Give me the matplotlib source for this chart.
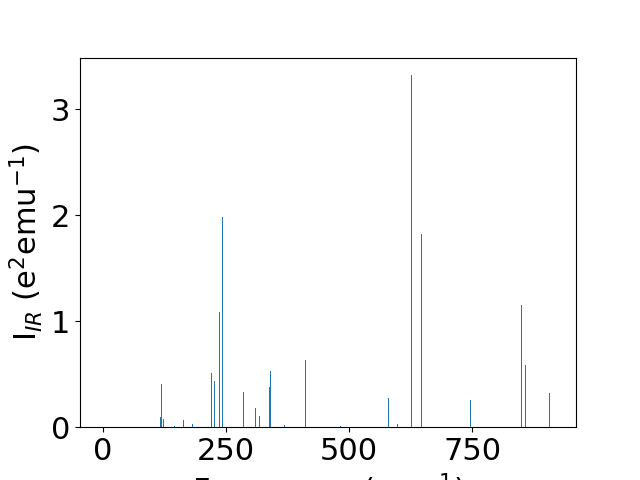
import matplotlib
matplotlib.use("Agg")
import matplotlib.pyplot as plt
import numpy as np

# IR modes: frequency (cm^-1) and intensity (e^2 emu^-1)
freq = [0, 116.5, 118.5, 122.6, 145, 163, 181.5, 220, 226, 236.5, 242.5,
        285, 309.6, 317.7, 338, 340, 368.5, 411, 482, 580, 598, 626.7,
        647, 746.5, 850, 858, 907, 914]
intensity = [0.0, 0.10, 0.405, 0.075, 0.01, 0.066, 0.03, 0.51, 0.44, 1.09, 1.98,
             0.33, 0.18, 0.11, 0.38, 0.53, 0.02, 0.63, 0.01, 0.28, 0.03, 3.32,
             1.82, 0.26, 1.15, 0.59, 0.32, 0.0]

plt.rcParams.update({'font.size': 22})
fig = plt.figure(figsize=(6.4, 4.8), dpi=100)
ax = fig.add_subplot(111)
ax.bar(freq, intensity, width=2)
ax.set_xlabel("Frequency (cm$^{-1}$)")
ax.set_ylabel("I$_{IR}$ (e$^2$emu$^{-1}$)")
fig.savefig("out.png", dpi=100)
